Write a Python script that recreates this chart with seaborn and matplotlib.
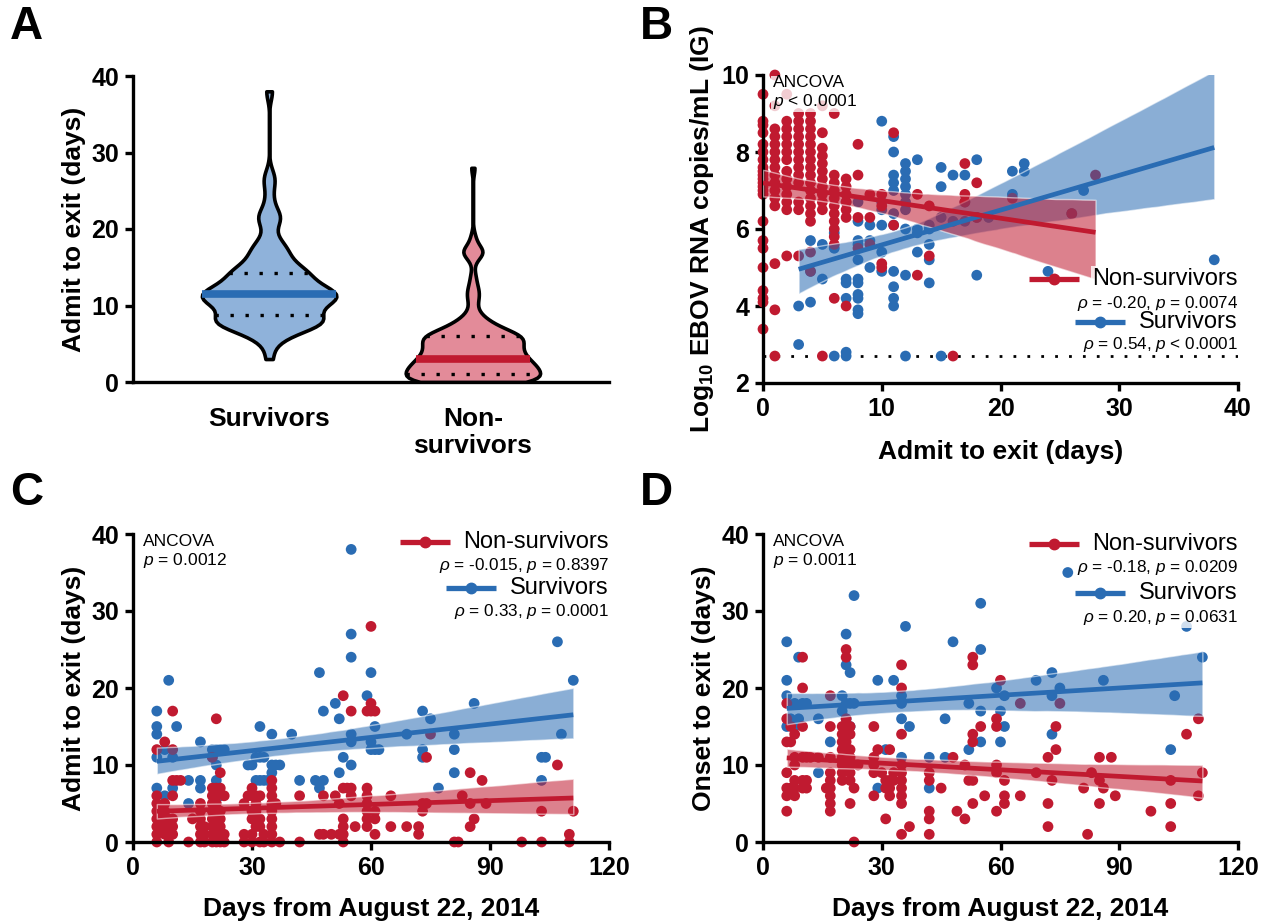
import numpy as np
import pandas as pd
import matplotlib
matplotlib.use("Agg")
import matplotlib.pyplot as plt
import seaborn as sns
from matplotlib.lines import Line2D
from matplotlib.collections import PolyCollection
from matplotlib import font_manager

# ---------------- data ----------------
# Panel C: days from Aug 22 2014 vs admit-to-exit (days)
c_surv_x = [6, 6, 6, 6, 6, 8, 8, 9, 10, 10, 11, 14, 14, 17, 17, 17,
            20, 20, 21, 21, 21, 22, 22, 23,
            29, 30, 31, 31, 32, 32, 32, 33, 33, 34,
            35, 35, 35, 36, 37, 40, 42, 46, 47, 47, 48, 48,
            51, 52, 52, 53, 55, 55, 55, 55, 55, 55,
            59, 60, 60, 60, 61, 61, 62,
            69, 73, 73, 73, 75, 77, 81, 81, 81, 86,
            103, 104, 103, 107, 108, 111]
c_surv_y = [17, 15, 14, 11, 7, 12, 6, 21, 11, 7, 15, 8, 5, 13, 8, 7,
            12, 11, 12, 10, 8, 12, 6, 12,
            10, 10, 11, 8, 15, 11, 8, 11, 8, 8,
            14, 10, 9, 10, 10, 14, 8, 8, 7, 22, 17, 8,
            18, 16, 9, 11, 38, 27, 24, 14, 13, 10,
            19, 22, 12, 13, 15, 12, 12,
            14, 17, 12, 11, 16, 7, 14, 12, 9, 18,
            11, 11, 8, 26, 14, 21]
c_non_x = [6, 6, 6, 6, 6, 6, 6, 6, 7, 7, 7, 8, 8, 8, 8, 8, 8, 9, 9, 9,
           10, 10, 10, 10, 10, 10, 10, 11, 12, 14, 15, 17, 17, 17, 17, 17, 17,
           18, 18, 18, 20, 20, 20, 20, 20, 20, 20, 20, 20,
           21, 21, 21, 21, 21, 21, 21, 21, 21, 22, 22, 22, 22, 22, 22, 22,
           23, 23, 23, 28, 28, 28, 29, 30, 30, 30, 30, 30, 30, 31, 31, 31, 31,
           32, 32, 32, 32, 33, 33, 35, 35, 35, 35, 35, 35, 35, 35, 35, 36, 37,
           42, 42, 47, 48, 48, 50, 51, 52, 52, 53, 53, 53, 53, 53, 53, 54,
           55, 55, 55, 56, 59, 59, 59, 59, 59, 59, 59, 60, 60, 60, 61, 61, 61, 61,
           65, 65, 69, 72, 72, 73, 73, 74, 74, 75, 81, 82, 83, 85, 85, 85, 86,
           88, 89, 98, 103, 103, 107, 110, 110, 111]
c_non_y = [12, 6, 5, 4, 3, 2, 1, 0, 4, 3, 2, 13, 5, 4, 3, 2, 1, 3, 2, 0,
           17, 12, 8, 6, 3, 2, 1, 8, 8, 0, 3, 5, 4, 3, 2, 1, 0,
           2, 1, 0, 11, 7, 6, 5, 4, 3, 2, 1, 0,
           16, 7, 6, 5, 4, 3, 2, 1, 0, 9, 7, 4, 3, 2, 1, 0,
           6, 1, 0, 5, 1, 0, 6, 7, 6, 4, 3, 1, 0, 6, 5, 4, 2,
           6, 3, 2, 0, 1, 0, 8, 7, 6, 5, 4, 3, 2, 1, 0, 5, 0,
           6, 0, 1, 6, 1, 1, 6, 5, 1, 19, 7, 3, 2, 1, 0, 7,
           17, 7, 6, 2, 17, 7, 6, 5, 4, 3, 2, 28, 18, 17, 17, 4, 3, 1,
           6, 2, 2, 2, 1, 5, 4, 11, 5, 14, 0, 0, 6, 9, 5, 2, 3,
           8, 5, 0, 4, 0, 10, 1, 0, 4]

# Panel A: admit-to-exit distributions (panel C values plus violin minimum)
a_surv_extra = [3]
a_surv = c_surv_y + a_surv_extra
a_non = c_non_y
a_groups = ["Survivors", "Non-\nsurvivors"]

# Panel D: days from Aug 22 2014 vs onset-to-exit (days)
d_surv_x = [6, 6, 6, 6, 7, 8, 8, 9, 9, 10, 11, 14, 14, 17,
            20, 20, 21, 21, 21, 21, 22, 22, 22, 23, 23,
            29, 29, 31, 33, 35, 35, 35, 35, 36, 37,
            42, 42, 46, 46, 48, 52, 52,
            55, 55, 55, 55, 59, 60, 60, 61, 61,
            69, 73, 73, 73, 75, 77, 86,
            103, 104, 107, 111]
d_surv_y = [26, 21, 19, 15, 16, 18, 15, 24, 16, 18, 18, 16, 9, 13,
            19, 17, 27, 23, 18, 16, 22, 18, 15, 32, 18,
            21, 7, 12, 21, 19, 18, 16, 11, 28, 15,
            11, 7, 16, 11, 26, 12, 18,
            31, 25, 17, 13, 20, 17, 13, 19, 15,
            21, 22, 19, 14, 20, 35, 21,
            12, 19, 28, 24]
d_non_x = [6, 6, 6, 6, 6, 6, 6, 7, 7, 7, 8, 8, 8, 8, 8, 8,
           10, 10, 10, 10, 10, 10, 11, 11, 11, 12, 14, 16,
           17, 17, 17, 17, 17, 17, 17, 17, 17,
           20, 20, 20, 20, 20, 20, 20, 20,
           21, 21, 21, 21, 21, 21, 21, 21, 21,
           22, 22, 22, 22, 22, 22, 22, 22, 23, 23, 24,
           28, 28, 28, 28, 28, 29, 30, 31, 31, 31, 32, 32, 32, 32, 33, 33,
           35, 35, 35, 35, 35, 35, 35, 35, 35, 35, 37,
           42, 42, 42, 42, 42, 45, 48, 49, 51, 51, 52,
           53, 53, 53, 53, 53, 53, 55, 56, 59, 59, 59, 59, 59, 60, 61, 61, 61,
           65, 65, 69, 72, 72, 72, 73, 74, 74, 75, 81, 82, 83, 85, 85, 85, 86,
           88, 89, 98, 103, 103, 103, 107, 110, 110, 111]
d_non_y = [18, 16, 13, 9, 7, 6, 4, 15, 13, 7, 14, 11, 10, 8, 7, 6,
           24, 20, 15, 11, 8, 7, 11, 8, 7, 11, 11, 7,
           19, 15, 11, 9, 8, 7, 6, 5, 4,
           15, 14, 13, 12, 11, 10, 9, 8,
           25, 24, 16, 15, 14, 13, 12, 11, 10,
           15, 14, 12, 11, 10, 9, 8, 5, 7, 0, 10,
           15, 11, 10, 9, 6, 12, 9, 8, 7, 3, 12, 8, 7, 6, 8, 9,
           23, 20, 14, 10, 9, 8, 7, 6, 5, 1, 2,
           9, 8, 4, 3, 1, 7, 11, 4, 10, 3, 8,
           24, 23, 14, 13, 8, 5, 15, 6, 16, 15, 10, 9, 4, 21, 8, 6, 5,
           18, 6, 9, 11, 5, 2, 8, 15, 12, 18, 7, 1, 9, 11, 8, 5, 7,
           11, 6, 4, 8, 5, 2, 14, 16, 6, 9]

# Panel B: admit-to-exit (days) vs log10 EBOV RNA copies/mL
b_non_x = [0, 0, 0, 0, 0, 0, 0, 0, 0, 0, 0, 0, 0, 0, 0, 0, 0, 0, 0, 0, 0, 0, 0,
           1, 1, 1, 1, 1, 1, 1, 1, 1, 1, 1, 1, 1, 1, 1, 1,
           2, 2, 2, 2, 2, 2, 2, 2, 2, 2, 2, 2, 2, 2,
           3, 3, 3, 3, 3, 3, 3, 3, 3, 3, 3, 3, 3,
           4, 4, 4, 4, 4, 4, 4, 4, 4, 4, 4, 4, 4, 4, 4, 4, 4,
           5, 5, 5, 5, 5, 5, 5, 5, 5, 5, 5, 5,
           6, 6, 6, 6, 6, 6, 6, 6, 6, 6, 6, 6,
           7, 7, 7, 7, 7, 7, 7, 8, 8, 8, 8, 9, 9, 9, 10, 10, 10, 10,
           11, 11, 13, 13, 14, 14, 16, 17, 17, 17, 18, 18, 21, 26, 28]
b_non_y = [9.5, 8.8, 8.7, 8.5, 8.2, 8.0, 7.8, 7.6, 7.5, 7.4, 7.3, 7.2, 7.1, 7.0, 6.9,
           6.2, 5.7, 5.5, 5.0, 4.4, 4.2, 4.1, 3.4,
           10.0, 9.2, 8.6, 8.4, 8.2, 8.0, 7.8, 7.6, 7.4, 7.2, 7.0, 6.8, 6.6, 5.1, 3.9, 2.7,
           9.5, 8.8, 8.6, 8.4, 8.2, 8.0, 7.8, 7.5, 7.3, 7.1, 6.9, 6.7, 6.5, 5.3,
           9.0, 8.8, 8.6, 8.4, 8.2, 8.0, 7.8, 7.6, 7.4, 7.2, 6.7, 6.5, 5.3,
           9.0, 8.8, 8.6, 8.4, 8.2, 8.0, 7.8, 7.6, 7.4, 7.2, 7.0, 6.8, 6.6, 6.4, 6.2, 5.4, 4.9,
           9.2, 8.5, 8.1, 7.9, 7.7, 7.5, 7.3, 7.1, 6.9, 6.7, 6.5, 2.7,
           9.0, 7.4, 7.2, 7.0, 6.8, 6.6, 6.4, 6.2, 6.0, 5.8, 5.6, 4.2,
           7.3, 7.1, 6.9, 6.7, 6.5, 6.3, 4.0, 8.2, 7.4, 6.3, 5.5, 6.9, 6.3, 5.6,
           6.9, 6.6, 5.1, 5.0,
           8.5, 6.1, 6.9, 4.8, 6.6, 5.3, 2.7, 7.7, 6.9, 6.7, 7.2, 6.3, 6.8, 6.4, 7.4]
b_surv_x = [3, 3, 4, 4, 4, 5, 5, 6, 6, 6, 7, 7, 7, 7, 7, 7,
            8, 8, 8, 8, 8, 8, 8, 8, 8, 8, 8, 9, 9, 9,
            10, 10, 10, 10, 10, 10, 11, 11, 11, 11, 11, 11, 11, 11, 11, 11, 11,
            12, 12, 12, 12, 12, 12, 12, 12, 12, 12, 13, 13, 13, 13,
            14, 14, 14, 14, 14, 15, 15, 15, 15, 16, 16, 17, 17, 17,
            18, 18, 18, 19, 21, 21, 22, 22, 24, 26, 27, 38]
b_surv_y = [4.0, 3.0, 5.7, 4.9, 4.1, 5.6, 4.7, 5.9, 5.5, 2.7, 6.7, 4.7, 4.6, 4.2, 2.8, 2.7,
            6.7, 6.2, 5.7, 5.6, 5.2, 4.7, 4.6, 4.3, 4.2, 3.9, 3.8, 6.1, 5.7, 5.0,
            8.8, 6.7, 6.5, 6.1, 5.4, 4.9, 8.4, 8.0, 7.4, 7.2, 7.0, 6.4, 6.1, 4.9, 4.5, 4.2, 4.0,
            7.7, 7.5, 7.3, 7.1, 6.9, 6.7, 6.5, 6.0, 4.8, 2.7, 7.8, 6.0, 5.9, 5.4,
            6.1, 6.0, 5.6, 5.2, 4.6, 7.6, 7.1, 6.3, 2.7, 7.4, 6.2, 7.4, 6.7, 6.2,
            7.8, 6.3, 4.8, 6.3, 7.5, 6.9, 7.7, 7.5, 4.9, 6.4, 7.0, 5.2]
b_lod = 2.7  # lower limit of detection (dotted line)

stats_b = [r"$\rho$ = -0.20, $p$ = 0.0074", r"$\rho$ = 0.54, $p$ < 0.0001"]
stats_c = [r"$\rho$ = -0.015, $p$ = 0.8397", r"$\rho$ = 0.33, $p$ = 0.0001"]
stats_d = [r"$\rho$ = -0.18, $p$ = 0.0209", r"$\rho$ = 0.20, $p$ = 0.0631"]
ancova = ["ANCOVA\n" + r"$p$ < 0.0001", "ANCOVA\n" + r"$p$ = 0.0012", "ANCOVA\n" + r"$p$ = 0.0011"]

# ---------------- style ----------------
sns.set_theme(style="ticks")
names = {f.name for f in font_manager.fontManager.ttflist}
NARROW = "Liberation Sans Narrow" if "Liberation Sans Narrow" in names else "Liberation Sans"
plt.rcParams["font.family"] = ["Liberation Sans", "DejaVu Sans"]
plt.rcParams["mathtext.fontset"] = "custom"
plt.rcParams["mathtext.rm"] = "Liberation Sans"
plt.rcParams["mathtext.it"] = "Liberation Sans:italic"
plt.rcParams["mathtext.bf"] = "Liberation Sans:bold"
for k in ["text.color", "axes.labelcolor", "xtick.color", "ytick.color", "axes.edgecolor"]:
    plt.rcParams[k] = "black"

BLUE = "#2a6cb3"
RED = "#c01a30"
BLUE_FILL = "#8fb2da"
RED_FILL = "#e38b99"
TICK_FS = 18
LAB_FS = 19

W, H = 1263, 923
fig = plt.figure(figsize=(W / 100, H / 100), dpi=100)
axA = fig.add_axes([133 / W, 1 - 382 / H, 476 / W, 306 / H])
axB = fig.add_axes([763 / W, 1 - 383 / H, 475 / W, 308 / H])
axC = fig.add_axes([133 / W, 1 - 842 / H, 476 / W, 308 / H])
axD = fig.add_axes([763 / W, 1 - 842 / H, 475 / W, 308 / H])


def style(ax):
    sns.despine(ax=ax)
    for s in ["left", "bottom"]:
        ax.spines[s].set_linewidth(2.4)
        ax.spines[s].set_color("black")
    ax.tick_params(width=2.4, length=6, labelsize=TICK_FS, color="black",
                   labelcolor="black", pad=4)
    for lab in ax.get_xticklabels() + ax.get_yticklabels():
        lab.set_fontweight("bold")
        lab.set_fontfamily(NARROW)


# ---------------- panel A ----------------
dfA = pd.DataFrame({"group": [a_groups[0]] * len(a_surv) + [a_groups[1]] * len(a_non),
                    "days": a_surv + a_non})
sns.violinplot(data=dfA, x="group", y="days", hue="group", palette=[BLUE_FILL, RED_FILL],
               inner="quart", cut=0, density_norm="width", width=0.66, bw_adjust=0.5,
               linewidth=2.6, linecolor="black", saturation=1, legend=False, ax=axA)
for i, ln in enumerate(axA.lines):
    if i % 3 == 1:
        ln.set_linestyle("-")
        ln.set_color(BLUE if i < 3 else RED)
        ln.set_linewidth(5.5)
        ln.set_solid_capstyle("butt")
    else:
        ln.set_linestyle((0, (1, 3.5)))
        ln.set_color("black")
        ln.set_linewidth(2.4)
axA.set_xlim(-0.668, 1.668)
axA.set_ylim(0, 40)
axA.set_yticks([0, 10, 20, 30, 40])
axA.set_xlabel("")
axA.set_ylabel("Admit to exit (days)", fontsize=LAB_FS, fontweight="bold", labelpad=4)
style(axA)
axA.tick_params(axis="x", length=0, pad=18)
for lab in axA.get_xticklabels():
    lab.set_fontfamily("Liberation Sans")
    lab.set_fontsize(LAB_FS)
    lab.set_linespacing(1.15)


# ---------------- regression panels ----------------
def reg(ax, x, y, color):
    n0 = len(ax.collections)
    sns.regplot(x=np.array(x, float), y=np.array(y, float), ax=ax, color=color, ci=95,
                truncate=True, seed=1, n_boot=2000,
                scatter_kws=dict(s=60, alpha=1, edgecolor="none", linewidths=0,
                                 zorder=2, clip_on=False),
                line_kws=dict(lw=3.4, zorder=4, solid_capstyle="butt"))
    for coll in ax.collections[n0:]:
        if isinstance(coll, PolyCollection):
            coll.set_alpha(0.55)
            coll.set_zorder(3)


reg(axB, b_surv_x, b_surv_y, BLUE)
reg(axB, b_non_x, b_non_y, RED)
axB.axhline(b_lod, color="black", lw=2, ls=(0, (1, 4)), zorder=1)
axB.set_xlim(0, 40)
axB.set_ylim(2, 10)
axB.set_xticks([0, 10, 20, 30, 40])
axB.set_yticks([2, 4, 6, 8, 10])
axB.set_xlabel("Admit to exit (days)", fontsize=LAB_FS, fontweight="bold", labelpad=14)
axB.set_ylabel(r"Log$_{\mathbf{10}}$ EBOV RNA copies/mL (IG)", fontsize=LAB_FS,
               fontweight="bold", labelpad=4)
style(axB)

for ax, (sx, sy, nx, ny), ylab in [
        (axC, (c_surv_x, c_surv_y, c_non_x, c_non_y), "Admit to exit (days)"),
        (axD, (d_surv_x, d_surv_y, d_non_x, d_non_y), "Onset to exit (days)")]:
    reg(ax, sx, sy, BLUE)
    reg(ax, nx, ny, RED)
    ax.set_xlim(0, 120)
    ax.set_ylim(0, 40)
    ax.set_xticks([0, 30, 60, 90, 120])
    ax.set_yticks([0, 10, 20, 30, 40])
    ax.set_xlabel("Days from August 22, 2014", fontsize=LAB_FS, fontweight="bold", labelpad=12)
    ax.set_ylabel(ylab, fontsize=LAB_FS, fontweight="bold", labelpad=4)
    style(ax)

# ---------------- annotations / legends ----------------
box = dict(facecolor="white", edgecolor="none", alpha=0.78, pad=1)
for ax, txt in zip([axB, axC, axD], ancova):
    ax.text(0.02, 1.0, txt, transform=ax.transAxes, ha="left", va="top",
            fontsize=12.5, linespacing=1.15, bbox=box, zorder=6)

fig.canvas.draw()
renderer = fig.canvas.get_renderer()


def legend(ax, ys, stats):
    axw = ax.get_window_extent(renderer).width
    for (lab, col), (yl, ys_), st in zip([("Non-survivors", RED), ("Survivors", BLUE)], ys, stats):
        t = ax.text(1.0, yl, lab, transform=ax.transAxes, ha="right", va="center",
                    fontsize=17, bbox=box, zorder=6)
        bb = t.get_window_extent(renderer)
        x_left = ax.transAxes.inverted().transform((bb.x0, bb.y0))[0]
        xb = x_left - 14 / axw
        xa = xb - 50 / axw
        ax.add_line(Line2D([xa, xb], [yl, yl], transform=ax.transAxes, color=col, lw=3.8,
                           clip_on=False, zorder=7, solid_capstyle="butt"))
        ax.add_line(Line2D([(xa + xb) / 2], [yl], transform=ax.transAxes, color=col,
                           marker="o", ms=7.5, clip_on=False, zorder=7))
        ax.text(1.0, ys_, st, transform=ax.transAxes, ha="right", va="center",
                fontsize=12.3, bbox=box, zorder=6)


legend(axB, [(0.338, 0.259), (0.198, 0.126)], stats_b)
legend(axC, [(0.975, 0.897), (0.826, 0.747)], stats_c)
legend(axD, [(0.967, 0.89), (0.81, 0.73)], stats_d)

# panel letters
for lbl, x, y in [("A", 0.008, 0.995), ("B", 0.507, 0.995), ("C", 0.008, 0.49), ("D", 0.507, 0.49)]:
    fig.text(x, y, lbl, fontsize=33, fontweight="bold", ha="left", va="top")

fig.savefig("out.png", dpi=100)
